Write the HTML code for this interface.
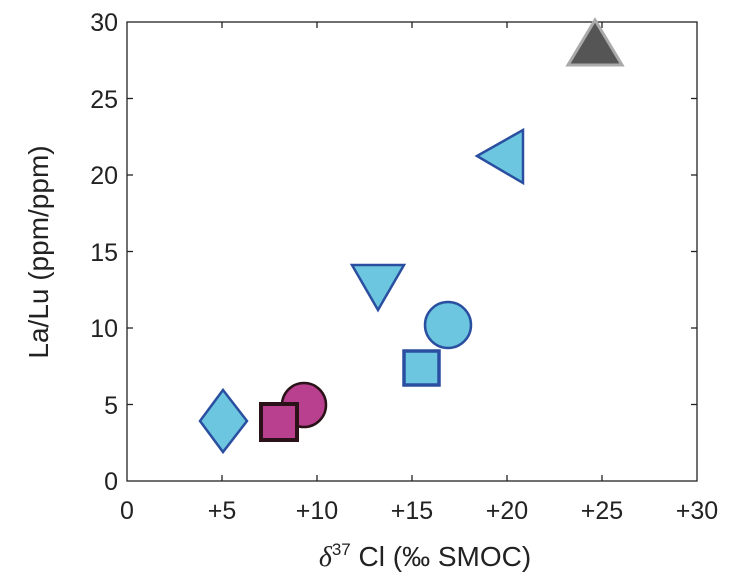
<!DOCTYPE html>
<html><head><meta charset="utf-8"><style>
html,body{margin:0;padding:0;background:#fff;}
svg{display:block;font-family:"Liberation Sans",sans-serif;}
</style></head><body>
<svg width="747" height="583" viewBox="0 0 747 583">
<rect x="127" y="22" width="570" height="459" fill="none" stroke="#222" stroke-width="1.3"/>
<g stroke="#222" stroke-width="1.3">
<line x1="222" y1="481" x2="222" y2="475"/><line x1="317" y1="481" x2="317" y2="475"/><line x1="412" y1="481" x2="412" y2="475"/><line x1="507" y1="481" x2="507" y2="475"/><line x1="602" y1="481" x2="602" y2="475"/>
<line x1="222" y1="22" x2="222" y2="28"/><line x1="317" y1="22" x2="317" y2="28"/><line x1="412" y1="22" x2="412" y2="28"/><line x1="507" y1="22" x2="507" y2="28"/><line x1="602" y1="22" x2="602" y2="28"/>
<line x1="127" y1="404.5" x2="133" y2="404.5"/><line x1="127" y1="328" x2="133" y2="328"/><line x1="127" y1="251.5" x2="133" y2="251.5"/><line x1="127" y1="175" x2="133" y2="175"/><line x1="127" y1="98.5" x2="133" y2="98.5"/>
<line x1="697" y1="404.5" x2="691" y2="404.5"/><line x1="697" y1="328" x2="691" y2="328"/><line x1="697" y1="251.5" x2="691" y2="251.5"/><line x1="697" y1="175" x2="691" y2="175"/><line x1="697" y1="98.5" x2="691" y2="98.5"/>
</g>
<g font-size="25" fill="#222" text-anchor="end">
<text x="118" y="490">0</text><text x="118" y="414">5</text><text x="118" y="337">10</text><text x="118" y="261">15</text><text x="118" y="184">20</text><text x="118" y="108">25</text><text x="118" y="31">30</text>
</g>
<g font-size="25" fill="#222" text-anchor="middle">
<text x="127" y="519">0</text><text x="222" y="519">+5</text><text x="317" y="519">+10</text><text x="412" y="519">+15</text><text x="507" y="519">+20</text><text x="602" y="519">+25</text><text x="697" y="519">+30</text>
</g>
<text x="425" y="566" font-size="28" fill="#222" text-anchor="middle"><tspan font-family="Liberation Serif" font-style="italic">δ</tspan><tspan font-size="17" dy="-11">37</tspan><tspan dy="11"> Cl (‰ SMOC)</tspan></text>
<text transform="translate(48,252) rotate(-90)" font-size="28" fill="#222" text-anchor="middle">La/Lu (ppm/ppm)</text>
<polygon points="595,20 622,65 568,65" fill="#555" stroke="#aaa" stroke-width="3"/>
<polygon points="477,156 523,130 523,183" fill="#6cc6df" stroke="#2a4fa0" stroke-width="2.5"/>
<polygon points="352,265 404,265 378,310" fill="#6cc6df" stroke="#2a4fa0" stroke-width="2.5"/>
<circle cx="448" cy="325" r="23" fill="#6cc6df" stroke="#2a4fa0" stroke-width="2.5"/>
<rect x="404" y="351" width="35" height="34" fill="#6cc6df" stroke="#2a4fa0" stroke-width="3.5"/>
<polygon points="223,390 247,421 223,452 200,421" fill="#6cc6df" stroke="#2a4fa0" stroke-width="2.5"/>
<circle cx="304" cy="405" r="22" fill="#b8408e" stroke="#2a1218" stroke-width="2.5"/>
<rect x="261" y="404" width="36" height="36" fill="#b8408e" stroke="#2a1218" stroke-width="4"/>
</svg>
</body></html>
